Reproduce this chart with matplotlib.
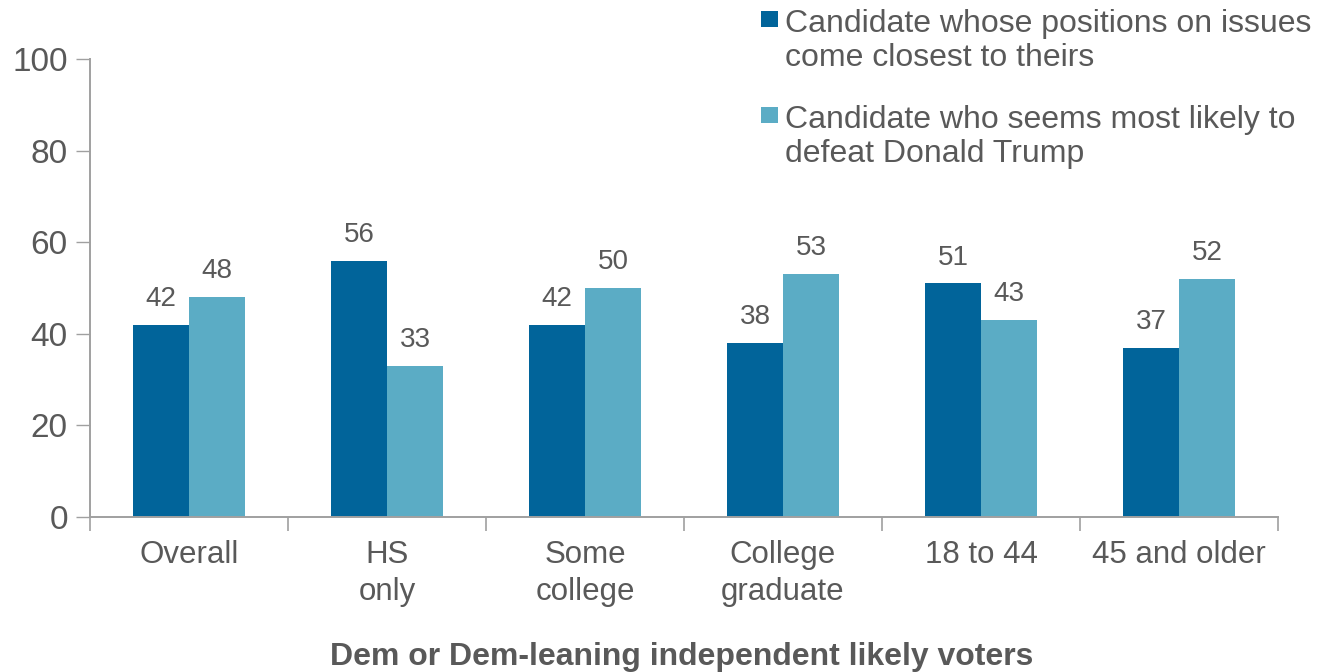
import matplotlib.pyplot as plt
from matplotlib.patches import Rectangle
import numpy as np

plt.rcParams['font.family'] = ['Liberation Sans', 'DejaVu Sans']

# data
categories = ['Overall', 'HS\nonly', 'Some\ncollege', 'College\ngraduate', '18 to 44', '45 and older']
closest = [42, 56, 42, 38, 51, 37]
defeat = [48, 33, 50, 53, 43, 52]
series_names = ['Candidate whose positions on issues\ncome closest to theirs',
                'Candidate who seems most likely to\ndefeat Donald Trump']
xlabel = 'Dem or Dem-leaning independent likely voters'

dark = '#01649A'
light = '#5BACC5'
grey = '#595959'
axis_grey = '#A0A0A0'

fig = plt.figure(figsize=(13.28, 6.72), dpi=100)
ax = fig.add_axes([0.0678, 0.2307, 0.8945, 0.6815])

x = np.arange(len(categories))
w = 0.283
b1 = ax.bar(x - w / 2, closest, w, color=dark)
b2 = ax.bar(x + w / 2, defeat, w, color=light)

for bars in (b1, b2):
    for r in bars:
        ax.text(r.get_x() + r.get_width() / 2, r.get_height() + 2.8, f'{int(r.get_height())}',
                ha='center', va='bottom', fontsize=20, color=grey)

ax.set_xlim(-0.5, len(categories) - 0.5)
ax.set_ylim(0, 100)
ax.set_yticks(range(0, 101, 20))
ax.tick_params(axis='y', labelsize=24, colors=grey, length=10, width=1, color=axis_grey, pad=6)

# category boundary ticks on x
ax.set_xticks(np.arange(len(categories) + 1) - 0.5)
ax.set_xticklabels([])
ax.tick_params(axis='x', length=10, width=1.2, color=axis_grey)
for i, c in enumerate(categories):
    ax.text(i, -5.0, c, ha='center', va='top', fontsize=22.5, color=grey, linespacing=1.3,
            transform=ax.transData)

for s in ['top', 'right']:
    ax.spines[s].set_visible(False)
for s in ['left', 'bottom']:
    ax.spines[s].set_color(axis_grey)
    ax.spines[s].set_linewidth(1.4)

fig.text(0.5135, 0.023, xlabel, ha='center', va='center', fontsize=23, fontweight='bold', color=grey)

# legend
for y, col, name in [(0.984, dark, series_names[0]), (0.841, light, series_names[1])]:
    fig.patches.append(Rectangle((0.5728, y - 0.024), 0.0128, 0.0238, transform=fig.transFigure,
                                 facecolor=col, edgecolor='none'))
    fig.text(0.591, y + 0.003, name, ha='left', va='top', fontsize=23, color=grey, linespacing=1.2)

fig.savefig('out.png', dpi=100)
